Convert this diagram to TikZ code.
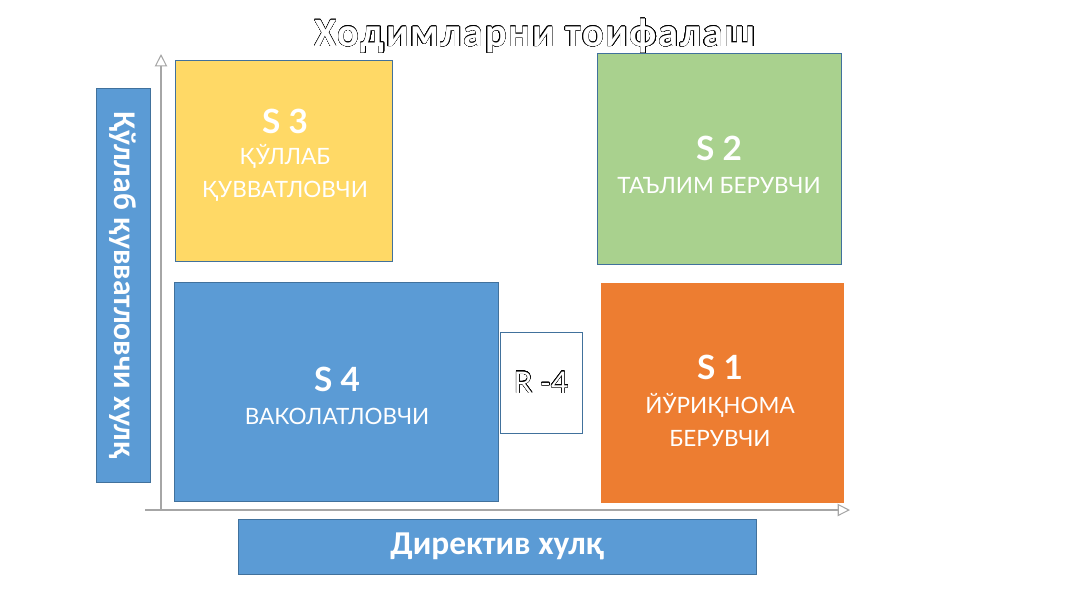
\documentclass[tikz,border=0pt]{standalone}
\usepackage{fontspec}
\setmainfont{Lato}
\newfontfamily\labelfont{Carlito}
\usepackage[copies]{contour}
\usetikzlibrary{arrows.meta}
\definecolor{boxline}{HTML}{41719C}
\definecolor{yellowbox}{HTML}{FFD966}
\definecolor{greenbox}{HTML}{A9D18E}
\definecolor{bluebox}{HTML}{5B9BD5}
\definecolor{orangebox}{HTML}{ED7D31}
\definecolor{axisgray}{HTML}{A6A6A6}
\contourlength{0.22pt}
\contournumber{24}
\begin{document}
\begin{tikzpicture}[
    x=0.02cm, y=-0.02cm,
    every node/.style={align=center},
    stylebox/.style={draw=boxline, line width=0.5pt, inner sep=0pt, text=white},
    sidebox/.style={stylebox, fill=bluebox, font=\labelfont\bfseries\fontsize{19}{22}\selectfont},
    stage/.style={text=white, font=\bfseries\fontsize{19}{22}\selectfont},
    role/.style={text=white, font=\fontsize{12.8}{18.5}\selectfont},
    axis line/.style={draw=axisgray, line width=0.6pt, -{Triangle[open, length=7pt, width=7pt]}},
    ]
\useasboundingbox (0,0) rectangle (1067,600);
% title
\node (title) at (535,36) {\labelfont\bfseries\fontsize{23}{26}\selectfont\addfontfeatures{LetterSpace=4}\contour{black}{\textcolor{white}{Ходимларни тоифалаш}}};
% axes
\coordinate (origin) at (161,510);
\coordinate (ytop) at (161,54);
\coordinate (xend) at (850,510);
\coordinate (xstart) at (145,510);
\draw[axis line] (origin) -- (ytop);
\draw[axis line] (xstart) -- (xend);
% quadrants
\node[stylebox, fill=yellowbox, minimum width=4.34cm, minimum height=4.02cm] (s3) at (283.5,160.5) {};
\node[stage] (s3name) at (285,121) {S 3};
\node[role] (s3role) at (285,173) {ҚЎЛЛАБ\\ҚУВВАТЛОВЧИ};
\node[stylebox, fill=greenbox, minimum width=4.88cm, minimum height=4.22cm] (s2) at (719,158.5) {};
\node[stage] (s2name) at (719,148) {S 2};
\node[role] (s2role) at (719,186) {ТАЪЛИМ БЕРУВЧИ};
\node[stylebox, fill=bluebox, minimum width=6.48cm, minimum height=4.38cm] (s4) at (336,391.5) {};
\node[stage] (s4name) at (337,379) {S 4};
\node[role] (s4role) at (337,416) {ВАКОЛАТЛОВЧИ};
\node[stylebox, draw=orangebox, fill=orangebox, minimum width=4.84cm, minimum height=4.38cm] (s1) at (722,392.5) {};
\node[stage] (s1name) at (720,367) {S 1};
\node[role] (s1role) at (720,420) {ЙЎРИҚНОМА\\БЕРУВЧИ};
\node[stylebox, fill=white, minimum width=1.64cm, minimum height=2.02cm, font=\fontsize{17}{20}\selectfont] (r4) at (541,382.5) {\contourlength{0.2pt}\contour{black}{\textcolor{white}{R -4}}};
% axis labels
\node[sidebox, minimum width=1.08cm, minimum height=7.88cm] (ylabel) at (123,285) {};
\node[rotate=-90, text=white, font=\labelfont\bfseries\fontsize{18}{21}\selectfont] (ytext) at (123,285) {Қўллаб қувватловчи хулқ};
\node[sidebox, minimum width=10.36cm, minimum height=1.1cm] (xlabel) at (497,546.5) {Директив хулқ};
\end{tikzpicture}
\end{document}
